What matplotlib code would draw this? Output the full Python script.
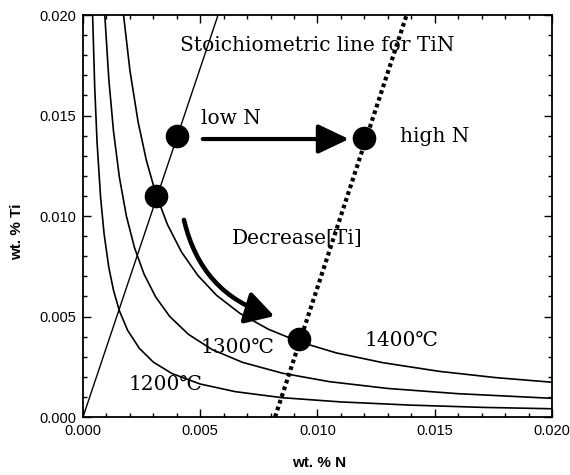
import matplotlib
matplotlib.use("Agg")
import matplotlib.pyplot as plt
from matplotlib.patches import FancyArrowPatch
from matplotlib.ticker import MultipleLocator

# solubility curves (wt.% N, wt.% Ti)
N_1200 = [0.00041, 0.00050, 0.00060, 0.00075, 0.00090, 0.00110, 0.00130, 0.00155,
          0.00190, 0.00240, 0.00300, 0.00380, 0.00500, 0.00650, 0.00850, 0.01100,
          0.01400, 0.01700, 0.02000]
TI_1200 = [0.02000, 0.01640, 0.01367, 0.01093, 0.00911, 0.00745, 0.00631, 0.00529,
           0.00432, 0.00342, 0.00273, 0.00216, 0.00164, 0.00126, 0.00096, 0.00075,
           0.00059, 0.00048, 0.00041]

N_1300 = [0.00093, 0.00110, 0.00130, 0.00155, 0.00185, 0.00220, 0.00260, 0.00310,
          0.00370, 0.00450, 0.00550, 0.00680, 0.00850, 0.01050, 0.01300, 0.01600,
          0.02000]
TI_1300 = [0.02000, 0.01682, 0.01423, 0.01194, 0.01000, 0.00841, 0.00712, 0.00597,
           0.00500, 0.00411, 0.00336, 0.00272, 0.00218, 0.00176, 0.00142, 0.00116,
           0.00093]

N_1400 = [0.00173, 0.00200, 0.00235, 0.00270, 0.00310, 0.00360, 0.00420, 0.00490,
          0.00570, 0.00670, 0.00790, 0.00920, 0.01080, 0.01280, 0.01520, 0.01760,
          0.02000]
TI_1400 = [0.02000, 0.01725, 0.01468, 0.01278, 0.01113, 0.00958, 0.00821, 0.00704,
           0.00605, 0.00515, 0.00437, 0.00375, 0.00319, 0.00270, 0.00227, 0.00196,
           0.00173]

# stoichiometric line and the dotted line parallel to it
STOICH_N = [0.0, 0.00576]
STOICH_TI = [0.0, 0.0200]
DOT_N = [0.00819, 0.01380]
DOT_TI = [0.0, 0.0200]

# marked compositions
PTS_N = [0.0040, 0.0120, 0.0031, 0.00922]
PTS_TI = [0.0140, 0.0139, 0.0110, 0.00387]

SERIF = ["DejaVu Serif", "Noto Sans CJK JP"]
FS = 14.5

fig = plt.figure(figsize=(5.7, 4.75), dpi=100)
ax = fig.add_axes([0.1456, 0.1221, 0.8228, 0.8463])

for n, t in [(N_1200, TI_1200), (N_1300, TI_1300), (N_1400, TI_1400)]:
    ax.plot(n, t, color="black", lw=1.2)
ax.plot(STOICH_N, STOICH_TI, color="black", lw=1.0)
ax.plot(DOT_N, DOT_TI, color="black", lw=3.0, ls=(0, (0.9, 0.8)))
ax.plot(PTS_N, PTS_TI, "o", color="black", ms=16, zorder=5)

# horizontal arrow low N -> high N
ax.add_patch(FancyArrowPatch((0.00499, 0.01383), (0.01146, 0.01383),
                             arrowstyle="-|>,head_length=1.05,head_width=0.5",
                             mutation_scale=18, lw=3.0, color="black", zorder=4))
# curved arrow, decrease [Ti]
ax.add_patch(FancyArrowPatch((0.00428, 0.00994), (0.00827, 0.00498),
                             connectionstyle="arc3,rad=0.3",
                             arrowstyle="-|>,head_length=0.95,head_width=0.55",
                             mutation_scale=18, lw=3.3, color="black", zorder=4))

ax.text(0.00415, 0.0185, "Stoichiometric line for TiN", family=SERIF, fontsize=FS,
        ha="left", va="center")
ax.text(0.00505, 0.01485, "low N", family=SERIF, fontsize=FS, ha="left", va="center")
ax.text(0.01350, 0.01395, "high N", family=SERIF, fontsize=FS, ha="left", va="center")
ax.text(0.00635, 0.00890, "Decrease[Ti]", family=SERIF, fontsize=FS, ha="left", va="center")
ax.text(0.00500, 0.00345, "1300\u2103", family=SERIF, fontsize=FS, ha="left", va="center")
ax.text(0.01200, 0.00380, "1400\u2103", family=SERIF, fontsize=FS, ha="left", va="center")
ax.text(0.00195, 0.00160, "1200\u2103", family=SERIF, fontsize=FS, ha="left", va="center")

ax.set_xlim(0, 0.020)
ax.set_ylim(0, 0.020)
ax.xaxis.set_major_locator(MultipleLocator(0.005))
ax.yaxis.set_major_locator(MultipleLocator(0.005))
ax.xaxis.set_minor_locator(MultipleLocator(0.001))
ax.yaxis.set_minor_locator(MultipleLocator(0.001))
ax.xaxis.set_major_formatter(plt.FormatStrFormatter("%.3f"))
ax.yaxis.set_major_formatter(plt.FormatStrFormatter("%.3f"))
ax.tick_params(which="both", direction="in", top=True, right=True, width=1.0)
ax.tick_params(which="major", length=6, labelsize=10.5, pad=5)
ax.tick_params(which="minor", length=3)
for lab in ax.get_xticklabels() + ax.get_yticklabels():
    lab.set_family("Liberation Sans")
for sp in ax.spines.values():
    sp.set_linewidth(1.3)

fig.text(0.559, 0.025, "wt. % N", ha="center", va="center", fontsize=11,
         fontweight="bold", family="Liberation Sans")
fig.text(0.030, 0.513, "wt. % Ti", ha="center", va="center", rotation=90, fontsize=11,
         fontweight="bold", family="Liberation Sans")

fig.savefig("out.png", dpi=100)
